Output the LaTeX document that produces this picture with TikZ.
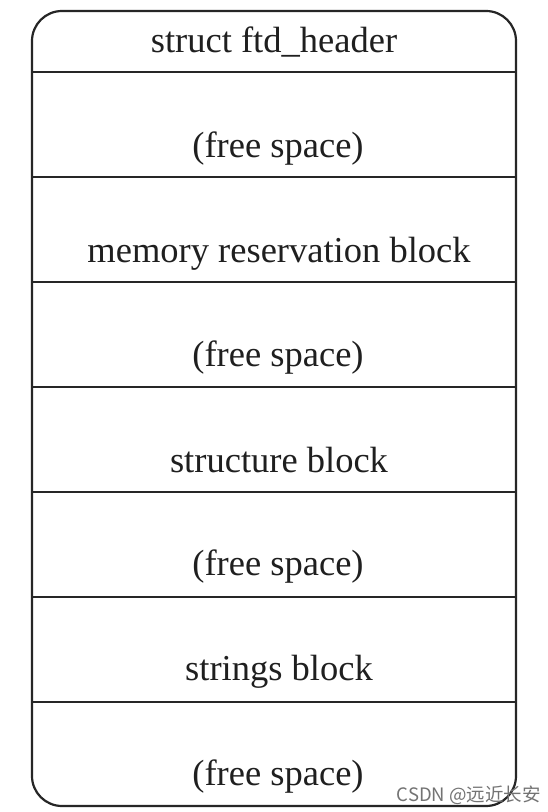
\documentclass[tikz,border=0pt]{standalone}
\usepackage{fontspec}
\setmainfont{Liberation Serif}
\newfontfamily\cjkfont{Noto Sans CJK SC}
\begin{document}
\begin{tikzpicture}[x=1pt,y=1pt,
  frame/.style={draw=black!85,line width=2.2pt,rounded corners=30pt},
  sep/.style={draw=black!85,line width=2.2pt},
  lbl/.style={font=\fontsize{36.5}{40}\selectfont,text=black!88,inner sep=0pt,anchor=center},
  wm/.style={font=\cjkfont\fontsize{18.5}{20}\selectfont,text=black!55,inner sep=0pt,anchor=east}]
\useasboundingbox (0,0) rectangle (548,812);
\fill[white] (0,0) rectangle (548,812);
\draw[frame] (32,801) rectangle (516,6);
\foreach \y [count=\i] in {72,177,282,387,492,597,702}{
  \coordinate (l\i) at (32,812-\y);
  \coordinate (r\i) at (516,812-\y);
  \draw[sep] (l\i) -- (r\i);
}
\node[lbl] (t1) at (274,812-42) {struct ftd\_header};
\node[lbl] (t2) at (278,812-149) {(free space)};
\node[lbl] (t3) at (279,812-254) {memory reservation block};
\node[lbl] (t4) at (278,812-358) {(free space)};
\node[lbl] (t5) at (279,812-460) {structure block};
\node[lbl] (t6) at (278,812-567) {(free space)};
\node[lbl] (t7) at (279,812-672) {strings block};
\node[lbl] (t8) at (278,812-777) {(free space)};
\node[wm] (w) at (541,812-795) {CSDN @远近长安};
\end{tikzpicture}
\end{document}
